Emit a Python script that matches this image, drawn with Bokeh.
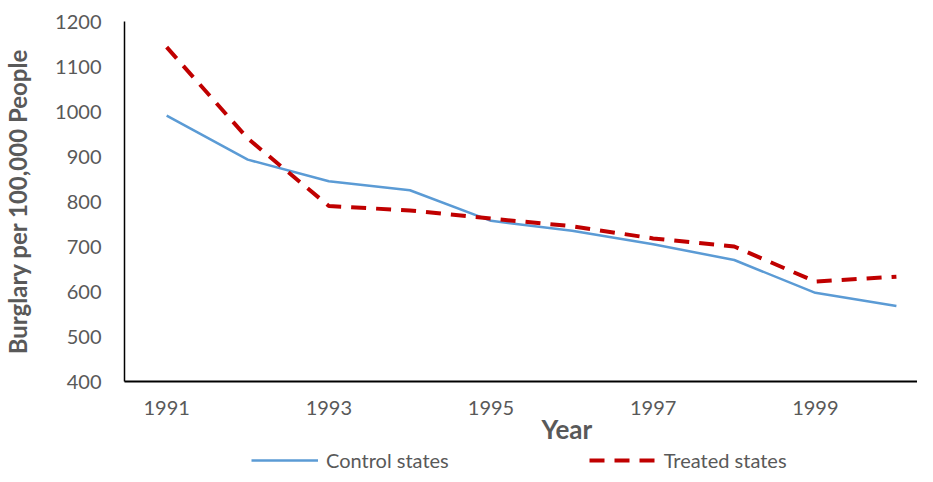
from bokeh.plotting import figure
from bokeh.layouts import column
from bokeh.models import Range1d, FixedTicker, Legend, LegendItem, Title
from bokeh.embed import file_html
from bokeh.resources import INLINE

years = [1991, 1992, 1993, 1994, 1995, 1996, 1997, 1998, 1999, 2000]
control = [991, 893, 845, 825, 757, 735, 705, 670, 597, 568]
treated = [1143, 940, 790, 780, 762, 745, 718, 700, 622, 633]
x_ticks = [1991, 1993, 1995, 1997, 1999]
y_ticks = [400, 500, 600, 700, 800, 900, 1000, 1100, 1200]
series_names = ["Control states", "Treated states"]
x_title = "Year"
y_title = "Burglary per 100,000 People"

FONT = "Lato"
GRAY = "#595959"
BLUE = "#5B9BD5"
RED = "#C00000"

p = figure(width=917, height=448, output_backend="svg", toolbar_location=None,
           x_range=Range1d(1990.48, 2000.26), y_range=Range1d(400, 1200),
           min_border_left=115, min_border_right=0, min_border_top=21, min_border_bottom=67)
p.outline_line_color = None
p.xgrid.grid_line_color = None
p.ygrid.grid_line_color = None

p.line(years, control, line_color=BLUE, line_width=2.5)
p.line(years, treated, line_color=RED, line_width=4, line_dash="15 10")

for ax in (p.xaxis[0], p.yaxis[0]):
    ax.major_tick_line_color = None
    ax.minor_tick_line_color = None
    ax.axis_line_color = "black"
    ax.major_label_text_font = FONT
    ax.major_label_text_color = GRAY
    ax.major_label_text_font_size = "20px"
    ax.axis_label_text_font = FONT
    ax.axis_label_text_color = GRAY
    ax.axis_label_text_font_style = "bold"

p.xaxis.ticker = FixedTicker(ticks=x_ticks)
p.yaxis.ticker = FixedTicker(ticks=y_ticks)
p.xaxis.axis_line_width = 2
p.yaxis.axis_line_width = 1.5
p.xaxis.major_label_standoff = 13
p.yaxis.major_label_standoff = 17
p.yaxis.axis_label = y_title
p.yaxis.axis_label_text_font_size = "24px"
p.yaxis.axis_label_standoff = 20

p.add_layout(Title(text=x_title, align="left", offset=417, standoff=-10,
                   vertical_align="top", text_font=FONT, text_font_size="26px",
                   text_font_style="bold", text_color=GRAY), "below")

# legend strip below the chart
lg = figure(width=917, height=24, output_backend="svg", toolbar_location=None,
            x_range=Range1d(0, 1), y_range=Range1d(0, 1),
            min_border_left=115, min_border_right=0, min_border_top=0, min_border_bottom=0)
lg.axis.visible = False
lg.grid.visible = False
lg.outline_line_color = None
r1 = lg.line(years, control, line_color=BLUE, line_width=2.5)
r2 = lg.line(years, treated, line_color=RED, line_width=4, line_dash="15 10")

legend = Legend(items=[LegendItem(label=series_names[0], renderers=[r1]),
                       LegendItem(label=series_names[1], renderers=[r2])],
                orientation="horizontal", location=(127, 0),
                label_text_font=FONT, label_text_color=GRAY, label_text_font_size="20px",
                glyph_width=67, glyph_height=20, label_standoff=8, spacing=140,
                border_line_color=None, background_fill_alpha=0,
                padding=0, margin=0)
lg.add_layout(legend, "center")

layout = column(p, lg, spacing=0)
open("out.html", "w").write(file_html(layout, INLINE))
